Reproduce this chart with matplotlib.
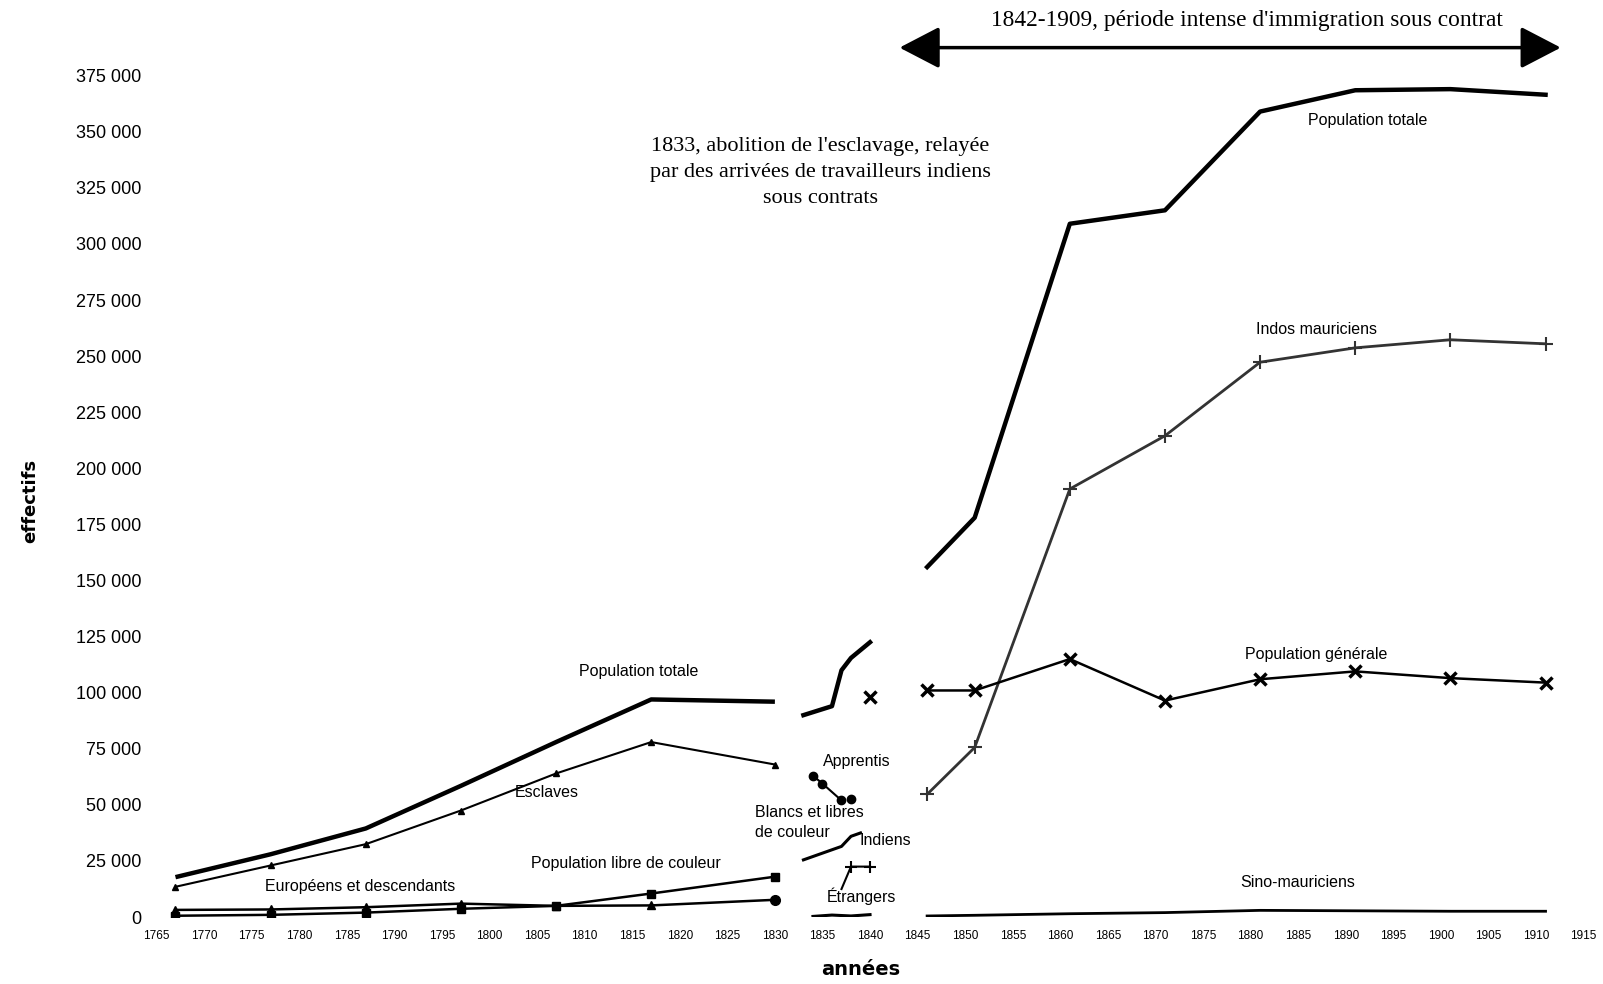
import matplotlib.pyplot as plt
from matplotlib.ticker import FuncFormatter

# --- data ---
# 1767-1830 (colonial censuses)
years_a = [1767, 1777, 1787, 1797, 1807, 1817, 1830]
total_a = [17800, 28000, 39500, 58500, 78000, 97000, 96000]
esclaves = [13500, 23000, 32500, 47500, 64000, 78000, 68000]
europeens = [3200, 3400, 4400, 6000, 5000, 5200, 7700]
libres = [600, 1000, 2000, 3700, 5000, 10500, 18000]

# 1833-1840 (transition)
years_b = [1833, 1836, 1837, 1838, 1840]
total_b = [90000, 94000, 110000, 115500, 122500]
years_appr = [1834, 1835, 1837, 1838]
apprentis = [63000, 59500, 52000, 52500]
years_bl = [1833, 1836, 1837, 1838, 1839]
blancs_libres = [25500, 30000, 31500, 36000, 37500]
years_ind = [1837, 1838, 1840]
indiens = [12500, 22500, 22500]
years_etr = [1834, 1836, 1838, 1840]
etrangers = [300, 900, 500, 1100]
gen_1840 = 98000

# 1846-1911 (censuses)
years_c = [1846, 1851, 1861, 1871, 1881, 1891, 1901, 1911]
total_c = [156000, 178000, 309000, 315000, 359000, 368500, 369000, 366500]
indos = [54700, 75600, 190800, 214500, 247300, 253700, 257300, 255500]
generale = [101000, 101000, 115000, 96500, 106000, 109500, 106500, 104500]
sino = [500, 800, 1500, 2000, 3000, 2800, 2600, 2600]

yticks = list(range(0, 375001, 25000))
xticks = list(range(1765, 1916, 5))

lab_font = ['Liberation Sans', 'DejaVu Sans']
narrow_font = ['Liberation Sans Narrow', 'Liberation Sans', 'DejaVu Sans']
serif_font = ['Liberation Serif', 'DejaVu Serif']

fig = plt.figure(figsize=(16.03, 9.84), dpi=100)
ax = fig.add_axes([0.0976, 0.068, 0.8903, 0.8551])

k = 'black'
# first period
ax.plot(years_a, total_a, color=k, lw=3.2, solid_capstyle='butt')
ax.plot(years_a, esclaves, color=k, lw=1.5, marker='^', ms=5)
ax.plot(years_a, europeens, color=k, lw=1.8)
ax.plot(years_a[:-1], europeens[:-1], ls='none', marker='^', ms=6, color=k)
ax.plot(years_a[-1:], europeens[-1:], ls='none', marker='o', ms=7, color=k)
ax.plot(years_a, libres, color=k, lw=1.8, marker='s', ms=6)

# transition
ax.plot(years_b, total_b, color=k, lw=3.2)
ax.plot(years_appr[:2], apprentis[:2], color=k, lw=1.5, marker='o', ms=6)
ax.plot(years_appr[1:3], apprentis[1:3], color=k, lw=1.5)
ax.plot(years_appr[2:], apprentis[2:], ls='none', marker='o', ms=6, color=k)
ax.plot(years_bl, blancs_libres, color=k, lw=2.2)
ax.plot(years_ind, indiens, color=k, lw=1.5)
ax.plot(years_ind[1:], indiens[1:], ls='none', marker='+', ms=9, mew=1.5, color=k)
ax.plot(years_etr, etrangers, color=k, lw=2.2)
ax.plot([1840], [gen_1840], ls='none', marker='x', ms=8, mew=2.5, color=k)

# third period
ax.plot(years_c, total_c, color=k, lw=3.2)
ax.plot(years_c, indos, color='0.2', lw=2.0, marker='+', ms=10, mew=1.5)
ax.plot(years_c, generale, color=k, lw=1.8, marker='x', ms=9, mew=2.5)
ax.plot(years_c, sino, color=k, lw=2.0)

# series labels
def lab(x, y, s, **kw):
    ax.text(x, y, s, ha='center', va='center', fontsize=11.5, family=lab_font, **kw)

lab(1815.7, 109300, 'Population totale')
lab(1806.0, 55600, 'Esclaves')
lab(1786.4, 13700, 'Européens et descendants')
lab(1814.3, 23700, 'Population libre de couleur')
lab(1838.6, 69200, 'Apprentis')
ax.text(1827.9, 42300, 'Blancs et libres\nde couleur', ha='left', va='center',
        fontsize=11.5, family=lab_font, linespacing=1.4)
lab(1841.6, 34200, 'Indiens')
lab(1839.1, 9100, 'Étrangers')
lab(1892.3, 355200, 'Population totale')
lab(1886.9, 261800, 'Indos mauriciens')
lab(1886.9, 117000, 'Population générale')
lab(1885.0, 15500, 'Sino-mauriciens')

# annotations
ax.text(1834.8, 332000, "1833, abolition de l'esclavage, relayée\npar des arrivées de travailleurs indiens\nsous contrats",
        ha='center', va='center', fontsize=16, family=serif_font, linespacing=1.5)
ax.annotate('', xy=(1912.6, 387500), xytext=(1843.1, 387500), annotation_clip=False,
            arrowprops=dict(arrowstyle='<|-|>,head_length=2.5,head_width=1.3',
                            lw=2.5, color=k, mutation_scale=10, shrinkA=0, shrinkB=0))
ax.text(1879.6, 399500, "1842-1909, période intense d'immigration sous contrat",
        ha='center', va='center', fontsize=16.8, family=serif_font, clip_on=False)

# axes
ax.set_xlim(1765, 1915)
ax.set_ylim(0, 375000)
ax.set_xticks(xticks)
ax.set_yticks(yticks)
ax.yaxis.set_major_formatter(FuncFormatter(lambda v, p: f"{v:,.0f}".replace(',', ' ')))
ax.tick_params(axis='y', length=0, pad=11, labelsize=13)
ax.tick_params(axis='x', length=0, pad=9, labelsize=8.5)
for t in ax.get_yticklabels():
    t.set_family(narrow_font)
for t in ax.get_xticklabels():
    t.set_family(narrow_font)
for sp in ax.spines.values():
    sp.set_visible(False)

fig.text(0.019, 0.491, 'effectifs', rotation=90, ha='center', va='center',
         fontsize=13, fontweight='bold')
fig.text(0.537, 0.015, 'années', ha='center', va='center', fontsize=14, fontweight='bold')

fig.savefig('out.png', dpi=100)
